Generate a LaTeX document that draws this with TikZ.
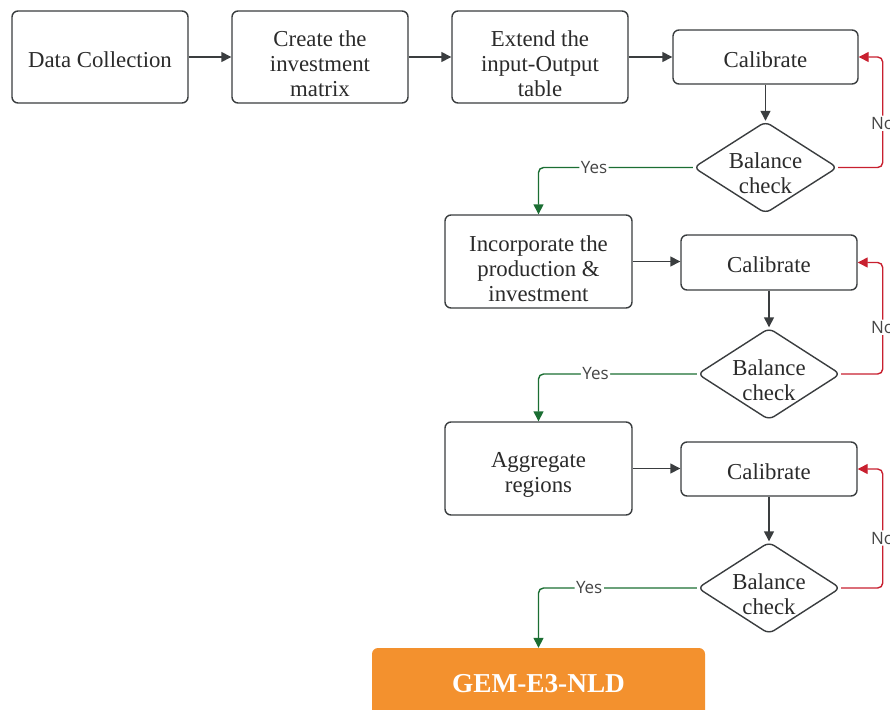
\documentclass[tikz,border=0pt]{standalone}
\usepackage{fontspec}
\setmainfont{Liberation Serif}
\newfontfamily\labelfont{Open Sans}
\usetikzlibrary{shapes.geometric,arrows.meta,positioning}

\definecolor{inkgrey}{HTML}{2B2B2B}
\definecolor{linegrey}{HTML}{3A3D3F}
\definecolor{yesgreen}{HTML}{1B6E33}
\definecolor{nored}{HTML}{C8202F}
\definecolor{gemorange}{HTML}{F3912E}
\definecolor{lblgrey}{HTML}{454545}

\tikzset{
  procbox/.style={draw=linegrey, line width=1.4pt, rounded corners=6pt,
    fill=white, inner sep=0pt},
  checkbox/.style={diamond, draw=linegrey, line width=1.4pt,
    rounded corners=6pt, fill=white, inner sep=0pt,
    minimum width=144pt, minimum height=92pt},
  boxtext/.style={align=center, text=inkgrey, inner sep=0pt,
    font=\fontsize{22.8}{25}\selectfont},
  flow/.style={draw=linegrey, line width=1.4pt,
    -{Triangle[length=10pt,width=10pt]}},
  yesline/.style={draw=yesgreen, line width=1.4pt, rounded corners=5pt,
    -{Triangle[length=10pt,width=10pt]}},
  noline/.style={draw=nored, line width=1.4pt, rounded corners=5pt,
    -{Triangle[length=10pt,width=10pt]}},
  lbl/.style={fill=white, text=lblgrey, inner sep=1.5pt,
    font=\labelfont\fontsize{17}{19}\selectfont},
}

\begin{document}
\begin{tikzpicture}[x=1pt,y=-1pt]
\useasboundingbox (0,0) rectangle (890,709);
\clip (0,0) rectangle (890,709);

% top row of preparation steps
\node[procbox, minimum width=176pt, minimum height=92pt] (collect) at (100,57) {};
\node[boxtext] (collectt) at ([yshift=-3pt]collect.center) {Data Collection};
\node[procbox, minimum width=176pt, minimum height=92pt] (matrix) at (320,57) {};
\node[boxtext] (matrixt) at ([yshift=-7pt]matrix.center) {Create the\\investment\\matrix};
\node[procbox, minimum width=176pt, minimum height=92pt] (extend) at (540,57) {};
\node[boxtext] (extendt) at ([yshift=-7pt]extend.center) {Extend the\\input-Output\\table};

% first calibration loop
\node[procbox, minimum width=185pt, minimum height=54pt] (cal1) at (765.5,57) {};
\node[boxtext] (cal1t) at ([yshift=-2.5pt]cal1.center) {Calibrate};
\node[checkbox] (chk1) at (765.5,167.5) {};
\node[boxtext] (chk1t) at ([yshift=-6pt]chk1.center) {Balance\\check};

% second calibration loop
\node[procbox, minimum width=187pt, minimum height=93pt] (incorp) at (538.5,261.5) {};
\node[boxtext] (incorpt) at ([yshift=-7pt]incorp.center) {Incorporate the\\production \&\\investment};
\node[procbox, minimum width=176pt, minimum height=55pt] (cal2) at (769,262.5) {};
\node[boxtext] (cal2t) at ([yshift=-2.5pt]cal2.center) {Calibrate};
\node[checkbox, minimum width=143pt] (chk2) at (769,374) {};
\node[boxtext] (chk2t) at ([yshift=-6pt]chk2.center) {Balance\\check};

% third calibration loop
\node[procbox, minimum width=187pt, minimum height=93pt] (aggr) at (538.5,468.5) {};
\node[boxtext] (aggrt) at ([yshift=-6pt]aggr.center) {Aggregate\\regions};
\node[procbox, minimum width=176pt, minimum height=54pt] (cal3) at (769,469) {};
\node[boxtext] (cal3t) at ([yshift=-2.5pt]cal3.center) {Calibrate};
\node[checkbox, minimum width=143pt] (chk3) at (769,588) {};
\node[boxtext] (chk3t) at ([yshift=-6pt]chk3.center) {Balance\\check};

% final model
\node[fill=gemorange, rounded corners=6pt, minimum width=333pt,
      minimum height=72pt, inner sep=0pt] (gem) at (538.5,684) {};
\node[text=white, inner sep=0pt, font=\bfseries\fontsize{27.3}{30}\selectfont]
      (gemt) at (gem.center) {GEM-E3-NLD};

% main flow
\draw[flow] (collect.east) -- (matrix.west);
\draw[flow] (matrix.east) -- (extend.west);
\draw[flow] (extend.east) -- (cal1.west);
\draw[flow] (cal1.south) -- (chk1.north);
\draw[flow] (incorp.east) -- (incorp.east -| cal2.west);
\draw[flow] (cal2.south) -- (chk2.north);
\draw[flow] (aggr.east) -- (aggr.east -| cal3.west);
\draw[flow] (cal3.south) -- (chk3.north);

% accepted balances
\draw[yesline] (chk1.west) -| (incorp.north) node[lbl,pos=0.32]{Yes};
\draw[yesline] (chk2.west) -| (aggr.north) node[lbl,pos=0.32]{Yes};
\draw[yesline] (chk3.west) -| (gem.north) node[lbl,pos=0.34]{Yes};

% rejected balances go back to calibration
\draw[noline] (chk1.east) -| ([xshift=24pt]cal1.east) node[lbl,pos=0.7]{No} -- (cal1.east);
\draw[noline] (chk2.east) -| ([xshift=25pt]cal2.east) node[lbl,pos=0.71]{No} -- (cal2.east);
\draw[noline] (chk3.east) -| ([xshift=25pt]cal3.east) node[lbl,pos=0.71]{No} -- (cal3.east);
\end{tikzpicture}
\end{document}
